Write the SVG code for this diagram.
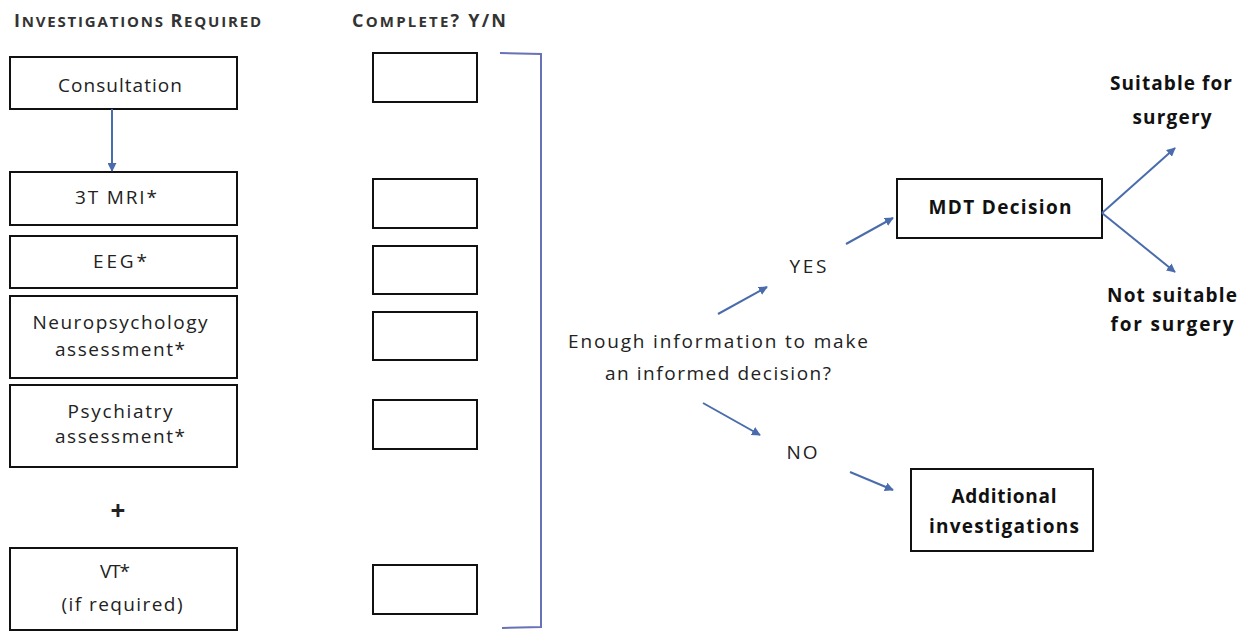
<svg xmlns="http://www.w3.org/2000/svg" width="1252" height="632" viewBox="0 0 1252 632">
<defs>
<marker id="ah" viewBox="0 0 10 10" refX="9" refY="5" markerWidth="9" markerHeight="9" markerUnits="userSpaceOnUse" orient="auto">
<path d="M0,0 L10,5 L0,10 z" fill="#4a6cad"/>
</marker>
<style>
.box{fill:#fff;stroke:#111;stroke-width:2}
.t{font-family:"Open Sans",Lato,sans-serif;font-size:19px;fill:#222;text-anchor:middle}
.b{font-family:"Open Sans",Lato,sans-serif;font-size:19px;font-weight:bold;fill:#111;text-anchor:middle}
.h{font-family:"Open Sans",Lato,sans-serif;font-size:15px;font-weight:bold;fill:#333}
.hb{font-size:18px}
.c{stroke:#4a6cad;stroke-width:2;fill:none;marker-end:url(#ah)}
</style>
</defs>
<rect width="1252" height="632" fill="#fff"/>
<g id="headers">
<text class="h" x="14" y="27" textLength="247"><tspan class="hb">I</tspan>NVESTIGATIONS <tspan class="hb">R</tspan>EQUIRED</text>
<text class="h" x="352" y="27" textLength="154"><tspan class="hb">C</tspan>OMPLETE<tspan class="hb">? Y/N</tspan></text>
</g>
<g id="consultation"><rect class="box" x="10" y="57" width="227" height="52"/><text class="t" x="120" y="92" textLength="124">Consultation</text></g>
<g id="mri"><rect class="box" x="10" y="172" width="227" height="53"/><text class="t" x="116" y="204" textLength="82">3T MRI*</text></g>
<g id="eeg"><rect class="box" x="10" y="236" width="227" height="52"/><text class="t" x="120" y="268" textLength="54">EEG*</text></g>
<g id="neuro"><rect class="box" x="10" y="296" width="227" height="82"/><text class="t" x="120" y="329" textLength="175">Neuropsychology</text><text class="t" x="120" y="356" textLength="130">assessment*</text></g>
<g id="psych"><rect class="box" x="10" y="385" width="227" height="82"/><text class="t" x="120" y="418" textLength="105">Psychiatry</text><text class="t" x="120" y="443" textLength="130">assessment*</text></g>
<g id="plus"><text class="t" x="118" y="520" style="font-size:26px;font-weight:bold">+</text></g>
<g id="vt"><rect class="box" x="10" y="548" width="227" height="82"/><text class="t" x="115" y="578" textLength="30">VT*</text><text class="t" x="122" y="611" textLength="121">(if required)</text></g>
<g id="checks">
<rect class="box" x="373" y="53" width="104" height="49"/>
<rect class="box" x="373" y="179" width="104" height="49"/>
<rect class="box" x="373" y="246" width="104" height="48"/>
<rect class="box" x="373" y="312" width="104" height="48"/>
<rect class="box" x="373" y="400" width="104" height="49"/>
<rect class="box" x="373" y="565" width="104" height="49"/>
</g>
<g id="question"><text class="t" x="718" y="348" textLength="300">Enough information to make</text><text class="t" x="718" y="380" textLength="226">an informed decision?</text></g>
<g id="yes"><text class="t" x="808" y="273" textLength="37">YES</text></g>
<g id="no"><text class="t" x="802" y="459" textLength="31">NO</text></g>
<g id="mdt"><rect class="box" x="897" y="179" width="205" height="59"/><text class="b" x="1000" y="214" textLength="143">MDT Decision</text></g>
<g id="additional"><rect class="box" x="911" y="469" width="182" height="82"/><text class="b" x="1004" y="503" textLength="105">Additional</text><text class="b" x="1004" y="533" textLength="150">investigations</text></g>
<g id="suitable"><text class="b" x="1171" y="90" textLength="122">Suitable for</text><text class="b" x="1172" y="124" textLength="79">surgery</text></g>
<g id="notsuitable"><text class="b" x="1172" y="302" textLength="130">Not suitable</text><text class="b" x="1172" y="331" textLength="123">for surgery</text></g>
<g id="connectors">
<line class="c" x1="112" y1="109" x2="112" y2="171"/>
<path d="M500,53 L541,54 L541,627 L502,628" stroke="#6872b8" stroke-width="2" fill="none"/>
<line class="c" x1="718" y1="314" x2="767" y2="287"/>
<line class="c" x1="846" y1="244" x2="893" y2="218"/>
<line class="c" x1="703" y1="403" x2="760" y2="435"/>
<line class="c" x1="850" y1="472" x2="893" y2="490"/>
<line class="c" x1="1102" y1="213" x2="1175" y2="148"/>
<line class="c" x1="1102" y1="213" x2="1175" y2="272"/>
</g>
</svg>
